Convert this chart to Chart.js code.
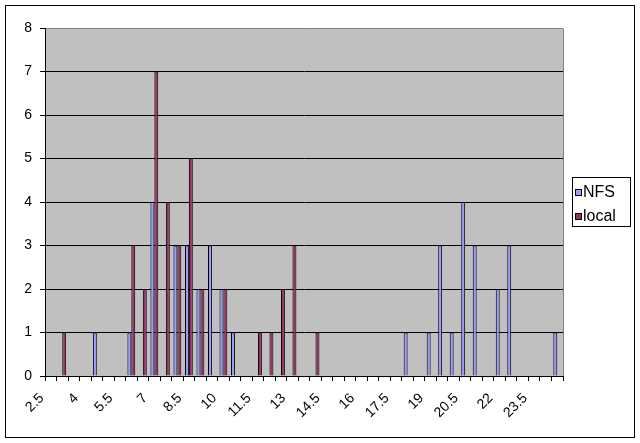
<!DOCTYPE html>
<html>
<head>
<meta charset="utf-8">
<script src="https://cdn.jsdelivr.net/npm/chart.js@4/dist/chart.umd.min.js"></script>
<style>
  html, body { margin: 0; padding: 0; background: #fff; }
  #wrap { width: 640px; height: 443px; }
</style>
</head>
<body>
<div id="wrap"><canvas id="myChart" width="640" height="443"></canvas></div>
<script>
// Categories (bin values) on the x axis
const categories = ["2.5", "3", "3.5", "4", "4.5", "5", "5.5", "6", "6.5", "7",
  "7.5", "8", "8.5", "9", "9.5", "10", "10.5", "11", "11.5", "12",
  "12.5", "13", "13.5", "14", "14.5", "15", "15.5", "16", "16.5", "17",
  "17.5", "18", "18.5", "19", "19.5", "20", "20.5", "21", "21.5", "22",
  "22.5", "23", "23.5", "24", "24.5"];

// Only every third category gets a label
const tickLabels = ["2.5", "4", "5.5", "7", "8.5", "10", "11.5", "13", "14.5",
  "16", "17.5", "19", "20.5", "22", "23.5"];

// Counts per bin
const nfsCounts = [0, 0, 0, 0, 1, 0, 0, 1, 0, 4,
  0, 3, 3, 2, 3, 2, 1, 0, 0, 0,
  0, 0, 0, 0, 0, 0, 0, 0, 0, 0,
  0, 1, 0, 1, 3, 1, 4, 3, 0, 2,
  3, 0, 0, 0, 1];
const localCounts = [0, 1, 0, 0, 0, 0, 0, 3, 2, 7,
  4, 3, 5, 2, 0, 2, 0, 0, 1, 1,
  2, 3, 0, 1, 0, 0, 0, 0, 0, 0,
  0, 0, 0, 0, 0, 0, 0, 0, 0, 0,
  0, 0, 0, 0, 0];

const yTicks = [0, 1, 2, 3, 4, 5, 6, 7, 8];

Chart.defaults.font.family = "'Liberation Sans', Arial, sans-serif";
Chart.defaults.color = "#000";

// Background, plot area, borders and the boxed legend
const frame = {
  id: "frame",
  beforeDraw(chart) {
    const { ctx, chartArea: a } = chart;
    ctx.save();
    ctx.fillStyle = "#fff";
    ctx.fillRect(0, 0, chart.width, chart.height);
    ctx.fillStyle = "#c0c0c0";
    ctx.fillRect(a.left, a.top, a.right - a.left, a.bottom - a.top);
    ctx.restore();
  },
  afterDraw(chart) {
    const { ctx, chartArea: a } = chart;
    ctx.save();
    ctx.lineWidth = 1;
    // gray right edge of plot
    ctx.strokeStyle = "#808080";
    ctx.beginPath();
    ctx.moveTo(Math.round(a.right) + 0.5, Math.round(a.top) + 0.5);
    ctx.lineTo(Math.round(a.right) + 0.5, Math.round(a.bottom));
    ctx.stroke();
    // outer border
    ctx.strokeStyle = "#000";
    ctx.strokeRect(5.5, 5.5, 629, 432);
    // legend
    ctx.fillStyle = "#fff";
    ctx.fillRect(572.5, 177.5, 58, 49);
    ctx.strokeRect(572.5, 177.5, 58, 49);
    ctx.font = "16px 'Liberation Sans', Arial, sans-serif";
    ctx.textBaseline = "middle";
    chart.data.datasets.forEach((ds, i) => {
      const y = 189.5 + i * 24;
      ctx.fillStyle = ds.backgroundColor;
      ctx.fillRect(575.5, y, 6, 6);
      ctx.strokeRect(575.5, y, 6, 6);
      ctx.fillStyle = "#000";
      ctx.fillText(ds.label, 583, y + 3.5);
    });
    ctx.restore();
  }
};

new Chart(document.getElementById("myChart"), {
  type: "bar",
  data: {
    labels: categories,
    datasets: [
      {
        label: "NFS",
        data: nfsCounts,
        backgroundColor: "#9999ff",
        borderColor: "#000",
        borderWidth: 1,
        borderSkipped: "bottom",
        categoryPercentage: 0.68,
        barPercentage: 1.0,
      },
      {
        label: "local",
        data: localCounts,
        backgroundColor: "#993366",
        borderColor: "#000",
        borderWidth: 1,
        borderSkipped: "bottom",
        categoryPercentage: 0.68,
        barPercentage: 1.0,
      },
    ],
  },
  options: {
    responsive: false,
    animation: false,
    layout: { padding: { left: 5, top: 28, right: 77, bottom: 5 } },
    plugins: {
      legend: { display: false },
      tooltip: { enabled: false },
    },
    scales: {
      x: {
        afterFit: (s) => { s.height = 62; },
        grid: {
          offset: true,
          drawOnChartArea: false,
          drawTicks: true,
          tickLength: 5,
          color: "#000",
        },
        border: { color: "#000" },
        ticks: {
          autoSkip: false,
          maxRotation: 45,
          minRotation: 45,
          labelOffset: -9,
          padding: 9,
          font: { size: 14 },
          callback: function (value) {
            const lab = this.getLabelForValue(value);
            return tickLabels.includes(lab) ? lab : "";
          },
        },
      },
      y: {
        min: yTicks[0],
        max: yTicks[yTicks.length - 1],
        afterFit: (s) => { s.width = 40; },
        grid: {
          color: (c) => (c.tick && c.tick.value === 8 ? "#808080" : "#000"),
          tickColor: "#000",
          tickLength: 5,
        },
        border: { color: "#000" },
        ticks: {
          stepSize: 1,
          padding: 8,
          font: { size: 14 },
        },
      },
    },
  },
  plugins: [frame],
});
</script>
</body>
</html>
